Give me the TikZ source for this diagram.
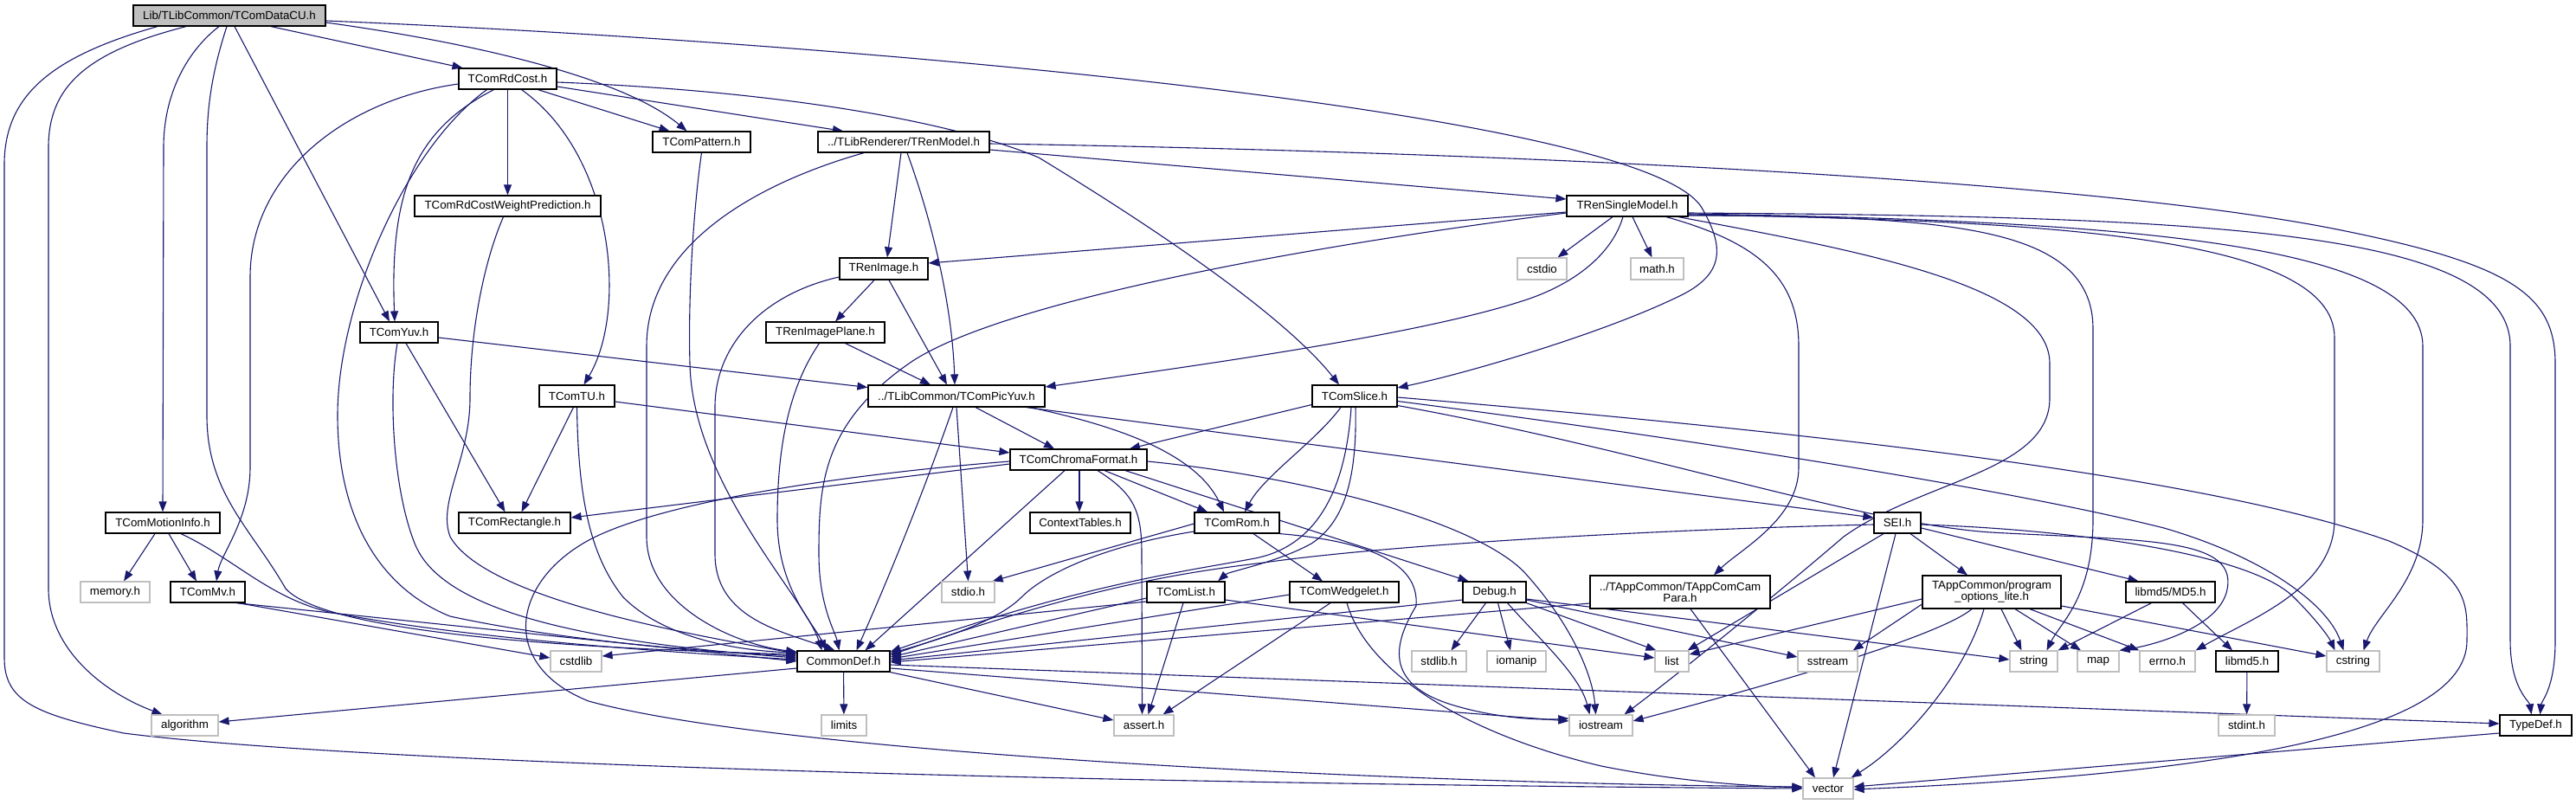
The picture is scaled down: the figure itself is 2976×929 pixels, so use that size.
\documentclass[tikz,border=0pt]{standalone}
\usepackage{fontspec}
\setmainfont{Liberation Sans}
\usetikzlibrary{arrows.meta}
\definecolor{mblue}{HTML}{191970}
\definecolor{grey75}{HTML}{BFBFBF}
\pgfdeclarelayer{bg}
\pgfsetlayers{bg,main}
\newcommand\dxfont{\fontsize{13.3}{13}\selectfont}
\newcommand\N[7]{%
 \pgfmathsetmacro\dxw{#5-#3}\pgfmathsetmacro\dxh{#6-#4}%
 \pgfmathsetmacro\dxx{(#3+#5)/2}\pgfmathsetmacro\dxy{(#4+#6)/2}%
 \node[#1, minimum width=\dxw pt, minimum height=\dxh pt] (#2) at (\dxx,\dxy) {#7};}
\tikzset{
 nbase/.style={rectangle, inner sep=0pt, line width=1.2pt, font=\dxfont, align=center, text=black},
 nb/.style={nbase, draw=black, fill=white},
 ng/.style={nbase, draw=grey75, fill=white},
 nr/.style={nbase, draw=black, fill=grey75},
 edg/.style={draw=mblue, line width=1.1pt, -{Triangle[length=12pt,width=9pt]}},
}
\begin{document}
\begin{tikzpicture}[x=1pt,y=-1pt]
\useasboundingbox (0,0) rectangle (2976,929);
% nodes
\N{nr}{cu}{154}{6}{376}{30}{Lib/TLibCommon/TComDataCU.h}
\N{nb}{rdcost}{530}{79}{643}{103}{TComRdCost.h}
\N{nb}{pattern}{754}{152}{867}{176}{TComPattern.h}
\N{nb}{renmodel}{945}{152}{1143}{176}{../TLibRenderer/TRenModel.h}
\N{nb}{rdcwp}{479}{226}{694}{250}{TComRdCostWeightPrediction.h}
\N{nb}{rensingle}{1810}{226}{1950}{250}{TRenSingleModel.h}
\N{nb}{renimage}{970}{298}{1072}{323}{TRenImage.h}
\N{ng}{cstdio}{1753}{298}{1810}{323}{cstdio}
\N{ng}{math}{1884}{298}{1945}{323}{math.h}
\N{nb}{yuv}{416}{372}{506}{396}{TComYuv.h}
\N{nb}{renplane}{885}{372}{1022}{396}{TRenImagePlane.h}
\N{nb}{tu}{623}{445}{710}{470}{TComTU.h}
\N{nb}{picyuv}{1003}{445}{1207}{470}{../TLibCommon/TComPicYuv.h}
\N{nb}{slice}{1516}{445}{1614}{470}{TComSlice.h}
\N{nb}{chroma}{1167}{519}{1325}{543}{TComChromaFormat.h}
\N{nb}{motion}{122}{592}{254}{616}{TComMotionInfo.h}
\N{nb}{rect}{530}{592}{659}{616}{TComRectangle.h}
\N{nb}{ctxt}{1190}{592}{1306}{616}{ContextTables.h}
\N{nb}{rom}{1380}{592}{1478}{616}{TComRom.h}
\N{nb}{sei}{2165}{592}{2219}{616}{SEI.h}
\N{ng}{memory}{93}{672}{173}{696}{memory.h}
\N{nb}{mv}{197}{672}{283}{696}{TComMv.h}
\N{ng}{stdio}{1088}{672}{1149}{696}{stdio.h}
\N{nb}{listh}{1325}{672}{1415}{696}{TComList.h}
\N{nb}{wedge}{1490}{672}{1616}{696}{TComWedgelet.h}
\N{nb}{debug}{1690}{672}{1763}{696}{Debug.h}
\N{nb}{campara}{1837}{665}{2045}{703}{../TAppCommon/TAppComCam\\Para.h}
\N{nb}{popts}{2221}{665}{2381}{703}{TAppCommon/program\\\_options\_lite.h}
\N{nb}{md5h}{2456}{672}{2559}{696}{libmd5/MD5.h}
\N{ng}{cstdlib}{636}{752}{695}{776}{cstdlib}
\N{nb}{commondef}{921}{752}{1028}{776}{CommonDef.h}
\N{ng}{stdlib}{1631}{752}{1694}{776}{stdlib.h}
\N{ng}{iomanip}{1718}{752}{1786}{776}{iomanip}
\N{ng}{list}{1912}{752}{1951}{776}{list}
\N{ng}{sstream}{2077}{752}{2146}{776}{sstream}
\N{ng}{string}{2322}{752}{2377}{776}{string}
\N{ng}{map}{2400}{752}{2448}{776}{map}
\N{ng}{errno}{2472}{752}{2536}{776}{errno.h}
\N{nb}{libmd5}{2560}{752}{2632}{776}{libmd5.h}
\N{ng}{cstring}{2688}{752}{2749}{776}{cstring}
\N{ng}{algorithm}{175}{826}{252}{850}{algorithm}
\N{ng}{limits}{949}{826}{1001}{850}{limits}
\N{ng}{assert}{1287}{826}{1356}{850}{assert.h}
\N{ng}{iostream}{1813}{826}{1886}{850}{iostream}
\N{ng}{stdint}{2563}{826}{2628}{850}{stdint.h}
\N{nb}{typedef}{2888}{826}{2971}{850}{TypeDef.h}
\N{ng}{vector}{2083}{899}{2141}{923}{vector}
\begin{pgfonlayer}{bg}
\fill[white] (0,0) rectangle (2976,929);
% edges from TComDataCU
\draw[edg] ([xshift=-83]cu.south) .. controls (60,65) and (5,110) .. (5,190) -- (5,760) .. controls (5,810) and (40,825) .. (143,847) .. controls (400,880) and (1200,905) .. (vector.west);
\draw[edg] ([xshift=-50]cu.south) .. controls (100,60) and (56,100) .. (56,170) -- (56,680) .. controls (56,750) and (120,800) .. ([xshift=-26]algorithm.north);
\draw[edg] ([xshift=-12]cu.south) .. controls (215,60) and (189,110) .. (189,170) -- (motion.north);
\draw[edg] ([xshift=-3]cu.south) .. controls (246,80) and (239,120) .. (239,170) -- (239,480) .. controls (239,570) and (290,610) .. (330,680) .. controls (380,735) and (700,750) .. ([yshift=8]commondef.west);
\draw[edg] ([xshift=6]cu.south) -- ([xshift=-11]yuv.north);
\draw[edg] ([xshift=48]cu.south) -- ([xshift=-52]rdcost.north);
\draw[edg] ([yshift=-8]cu.east) .. controls (550,50) and (720,90) .. ([xshift=-17]pattern.north);
\draw[edg] ([yshift=-6]cu.east) .. controls (1000,50) and (1900,130) .. (1966,240) .. controls (1995,290) and (1990,320) .. (1934,345) .. controls (1850,385) and (1700,430) .. ([yshift=9.5]slice.east);
% TComRdCost
\draw[edg] ([yshift=-6]rdcost.west) .. controls (400,115) and (289,200) .. (289,320) -- (289,540) .. controls (289,600) and (255,640) .. ([xshift=10]mv.north);
\draw[edg] ([xshift=-24]rdcost.south) .. controls (470,170) and (390,350) .. (390,480) .. controls (390,600) and (440,680) .. (520,712) .. controls (650,740) and (800,752) .. ([yshift=6]commondef.west);
\draw[edg] ([xshift=-16]rdcost.south) .. controls (480,150) and (450,220) .. ([xshift=-5]yuv.north);
\draw[edg] (rdcost) -- (rdcwp);
\draw[edg] ([xshift=16]rdcost.south) .. controls (710,180) and (725,360) .. ([xshift=8]tu.north);
\draw[edg] ([xshift=35]rdcost.south) -- ([xshift=-37]pattern.north);
\draw[edg] ([yshift=-9]rdcost.east) -- ([xshift=-70]renmodel.north);
\draw[edg] ([yshift=-4]rdcost.east) .. controls (900,105) and (1100,140) .. (1200,182) .. controls (1320,255) and (1480,360) .. ([xshift=-18]slice.north);
% TComPattern
\draw[edg] (pattern.south) .. controls (800,250) and (795,350) .. (797,420) .. controls (800,560) and (930,690) .. ([xshift=-25]commondef.north);
% TRenModel
\draw[edg] ([xshift=-46]renmodel.south) .. controls (880,210) and (747,280) .. (747,400) -- (747,620) .. controls (747,700) and (850,745) .. ([yshift=11]commondef.west);
\draw[edg] ([xshift=-3]renmodel.south) -- ([xshift=4]renimage.north);
\draw[edg] ([xshift=4]renmodel.south) .. controls (1075,250) and (1100,350) .. ([xshift=-2]picyuv.north);
\draw[edg] ([yshift=-9]renmodel.east) -- ([yshift=8]rensingle.west);
\draw[edg] ([yshift=-2]renmodel.east) .. controls (1700,175) and (2400,205) .. (2700,265) .. controls (2900,305) and (2952,340) .. (2952,420) -- (2952,740) .. controls (2952,795) and (2936,810) .. ([xshift=5]typedef.north);
% TComRdCostWeightPrediction
\draw[edg] ([xshift=-5]rdcwp.south) .. controls (560,300) and (543,380) .. (543,460) .. controls (543,530) and (505,580) .. (520,620) .. controls (560,690) and (780,730) .. ([yshift=9]commondef.west);
% TRenSingleModel
\draw[edg] ([yshift=-7]rensingle.west) -- ([yshift=6.5]renimage.east);
\draw[edg] ([yshift=-8]rensingle.west) .. controls (1500,285) and (1150,350) .. (1050,420) .. controls (950,490) and (946,560) .. (946,640) .. controls (946,700) and (965,730) .. ([xshift=-5]commondef.north);
\draw[edg] ([xshift=-5]rensingle.south) .. controls (1860,300) and (1810,330) .. (1767,345) .. controls (1650,385) and (1400,420) .. ([yshift=10.5]picyuv.east);
\draw[edg] ([xshift=-17]rensingle.south) -- ([xshift=18]cstdio.north);
\draw[edg] ([xshift=6]rensingle.south) -- ([xshift=-6]math.north);
\draw[edg] ([xshift=45]rensingle.south) .. controls (2030,280) and (2078,320) .. (2078,400) -- (2078,540) .. controls (2078,600) and (2010,635) .. ([xshift=39]campara.north);
\draw[edg] ([xshift=59]rensingle.south) .. controls (2150,290) and (2368,330) .. (2368,420) -- (2368,460) .. controls (2368,545) and (2220,555) .. (2130,620) .. controls (2060,680) and (1950,770) .. ([xshift=27]iostream.north);
\draw[edg] ([yshift=-11]rensingle.east) .. controls (2250,250) and (2418,260) .. (2418,380) -- (2418,600) .. controls (2418,690) and (2380,720) .. ([xshift=15]string.north);
\draw[edg] ([yshift=-10]rensingle.east) .. controls (2350,255) and (2697,270) .. (2697,390) -- (2697,600) .. controls (2697,680) and (2600,715) .. (errno.north east);
\draw[edg] ([yshift=-9]rensingle.east) .. controls (2450,255) and (2799,280) .. (2799,400) -- (2799,600) .. controls (2799,670) and (2745,710) .. ([xshift=12]cstring.north);
\draw[edg] ([yshift=-8]rensingle.east) .. controls (2550,250) and (2900,265) .. (2900,400) -- (2900,740) .. controls (2900,795) and (2922,810) .. ([xshift=-5]typedef.north);
% TRenImage
\draw[edg] ([xshift=-11]renimage.south) -- ([xshift=11.5]renplane.north);
\draw[edg] ([xshift=6]renimage.south) -- ([xshift=-11]picyuv.north);
\draw[edg] ([yshift=-9.5]renimage.west) .. controls (880,340) and (826,400) .. (826,470) -- (826,640) .. controls (826,715) and (905,730) .. ([xshift=-10]commondef.north);
% TRenImagePlane
\draw[edg] ([xshift=23]renplane.south) -- ([xshift=-30]picyuv.north);
\draw[edg] ([xshift=-7]renplane.south) .. controls (910,450) and (898,520) .. (898,600) .. controls (898,680) and (940,720) .. ([xshift=-20]commondef.north);
% TComYuv
\draw[edg] ([yshift=-6]yuv.east) -- ([yshift=10]picyuv.west);
\draw[edg] ([xshift=8]yuv.south) -- ([xshift=-11]rect.north);
\draw[edg] ([xshift=-2]yuv.south) .. controls (448,460) and (455,570) .. (480,630) .. controls (510,700) and (650,740) .. ([yshift=4]commondef.west);
% TComTU
\draw[edg] ([yshift=-6.5]tu.east) -- ([yshift=8]chroma.west);
\draw[edg] ([xshift=-4]tu.south) -- ([xshift=8]rect.north);
\draw[edg] (tu.south) .. controls (668,570) and (680,640) .. (720,690) .. controls (770,740) and (860,752) .. ([yshift=10]commondef.west);
% TComPicYuv
\draw[edg] (picyuv.south) -- (stdio.north);
\draw[edg] ([xshift=-4]picyuv.south) .. controls (1070,560) and (1030,660) .. ([xshift=15]commondef.north);
\draw[edg] ([xshift=22]picyuv.south) -- ([xshift=-28]chroma.north);
\draw[edg] ([xshift=85]picyuv.south) .. controls (1280,490) and (1380,520) .. ([xshift=-15]rom.north);
\draw[edg] ([xshift=-22]picyuv.south east) -- ([yshift=6]sei.west);
% TComSlice
\draw[edg] ([yshift=-10]slice.west) -- ([xshift=59]chroma.north);
\draw[edg] ([xshift=-16]slice.south) .. controls (1520,510) and (1460,550) .. ([xshift=9]rom.north);
\draw[edg] ([xshift=-4]slice.south) .. controls (1555,560) and (1525,630) .. (1450,645) .. controls (1370,660) and (1250,675) .. ([yshift=11]commondef.east);
\draw[edg] ([xshift=1]slice.south) .. controls (1568,560) and (1550,605) .. (1515,628) .. controls (1475,650) and (1420,660) .. ([xshift=37]listh.north);
\draw[edg] ([yshift=-11]slice.east) .. controls (1900,520) and (2150,605) .. (2300,615) .. controls (2480,625) and (2590,620) .. (2572,685) .. controls (2560,725) and (2490,745) .. (map.north east);
\draw[edg] ([yshift=-6]slice.east) .. controls (1900,500) and (2300,560) .. (2500,610) .. controls (2620,645) and (2690,700) .. ([xshift=-11]cstring.north);
\draw[edg] ([yshift=-1.5]slice.east) .. controls (2100,500) and (2550,550) .. (2760,625) .. controls (2855,665) and (2850,700) .. (2850,740) .. controls (2850,850) and (2550,895) .. ([yshift=-1]vector.east);
% TComChromaFormat
\draw[edg] ([yshift=-5]chroma.west) -- ([yshift=6]rect.east);
\draw[edg] ([yshift=-2]chroma.west) .. controls (950,550) and (740,585) .. (670,630) .. controls (590,680) and (580,770) .. (680,810) .. controls (900,870) and (1600,905) .. ([yshift=2]vector.west);
\draw[edg] ([xshift=-16]chroma.south) -- ([xshift=25]commondef.north);
\draw[edg] ([xshift=1]chroma.south) -- ([xshift=-1]ctxt.north);
\draw[edg] ([xshift=22]chroma.south) .. controls (1310,570) and (1319,590) .. (1319,640) -- ([xshift=-2]assert.north);
\draw[edg] ([xshift=30]chroma.south) -- ([xshift=-34]rom.north);
\draw[edg] ([xshift=54]chroma.south) -- ([xshift=-30]debug.north);
\draw[edg] ([yshift=-2]chroma.east) .. controls (1500,550) and (1700,600) .. (1760,660) .. controls (1815,720) and (1840,780) .. ([xshift=-6]iostream.north);
% TComRom
\draw[edg] ([yshift=-1]rom.west) -- ([xshift=-3]stdio.north east);
\draw[edg] ([yshift=-10]rom.west) .. controls (1280,630) and (1210,660) .. (1180,690) .. controls (1150,720) and (1080,740) .. ([yshift=9]commondef.east);
\draw[edg] ([xshift=19]rom.south) -- ([xshift=-25]wedge.north);
\draw[edg] (rom.south east) .. controls (1580,625) and (1640,650) .. (1636,700) .. controls (1612,740) and (1595,790) .. (1680,815) .. controls (1730,830) and (1780,832) .. ([yshift=8]iostream.west);
% SEI
\draw[edg] ([yshift=-2]sei.west) .. controls (1900,612) and (1600,630) .. (1460,650) .. controls (1360,662) and (1250,680) .. ([yshift=7]commondef.east);
\draw[edg] ([xshift=-16]sei.south) -- ([xshift=-2]list.north east);
\draw[edg] ([xshift=-2]sei.south) -- ([xshift=6]vector.north);
\draw[edg] ([xshift=15]sei.south) -- ([xshift=-28]popts.north);
\draw[edg] ([yshift=-6]sei.east) -- ([xshift=-37]md5h.north);
\draw[edg] ([yshift=-2]sei.east) .. controls (2400,612) and (2600,640) .. (2650,690) .. controls (2675,715) and (2690,735) .. ([xshift=-21]cstring.north);
% TComMotionInfo
\draw[edg] ([xshift=-9]motion.south) -- ([xshift=10]memory.north);
\draw[edg] ([xshift=7]motion.south) -- ([xshift=-13]mv.north);
\draw[edg] ([xshift=21]motion.south) .. controls (270,645) and (310,690) .. (380,707) .. controls (550,740) and (800,755) .. ([yshift=2]commondef.west);
% TComMv
\draw[edg] ([xshift=33]mv.south) -- (commondef.west);
\draw[edg] ([xshift=35]mv.south) -- ([yshift=4]cstdlib.west);
% TComList
\draw[edg] ([yshift=-7]listh.west) -- ([yshift=5]commondef.east);
\draw[edg] ([yshift=-11]listh.west) -- ([yshift=6]cstdlib.east);
\draw[edg] ([xshift=-3]listh.south) -- ([xshift=5]assert.north);
\draw[edg] ([yshift=-9]listh.east) -- ([yshift=4]list.west);
% TComWedgelet
\draw[edg] ([yshift=-3]wedge.west) -- ([yshift=3]commondef.east);
\draw[edg] ([xshift=-16]wedge.south) -- ([xshift=22]assert.north);
\draw[edg] ([xshift=3]wedge.south) .. controls (1580,780) and (1700,850) .. (1850,885) .. controls (1950,905) and (2030,908) .. ([yshift=1]vector.west);
% Debug
\draw[edg] ([yshift=-9]debug.west) -- ([yshift=1]commondef.east);
\draw[edg] ([xshift=-10]debug.south) -- ([xshift=14]stdlib.north);
\draw[edg] ([xshift=4]debug.south) -- ([xshift=-7]iomanip.north);
\draw[edg] ([xshift=15]debug.south) .. controls (1780,740) and (1825,780) .. ([xshift=-13]iostream.north);
\draw[edg] (debug.south east) -- ([xshift=2]list.north west);
\draw[edg] ([yshift=-9]debug.east) -- ([yshift=5]sstream.west);
\draw[edg] ([yshift=-8]debug.east) -- ([yshift=2]string.west);
% TAppComCamPara
\draw[edg] ([yshift=-13]campara.west) -- ([yshift=-1]commondef.east);
\draw[edg] ([xshift=12]campara.south) -- ([xshift=-15]vector.north);
% program_options_lite
\draw[edg] ([yshift=-8]popts.west) -- ([yshift=8]list.east);
\draw[edg] ([yshift=-14]popts.west) -- ([xshift=-6]sstream.north east);
\draw[edg] ([xshift=-23]popts.south) .. controls (2240,735) and (2050,790) .. ([yshift=5]iostream.east);
\draw[edg] ([xshift=-9]popts.south) .. controls (2270,780) and (2200,860) .. ([xshift=-3]vector.north east);
\draw[edg] ([xshift=11]popts.south) -- ([xshift=-14]string.north);
\draw[edg] ([xshift=27]popts.south) -- ([xshift=-20]map.north);
\draw[edg] ([xshift=44]popts.south) -- (errno.north west);
\draw[edg] ([yshift=-16]popts.east) -- ([yshift=6]cstring.west);
% MD5
\draw[edg] ([xshift=-22]md5h.south) -- (string.north east);
\draw[edg] ([xshift=14]md5h.south) -- ([xshift=-17]libmd5.north);
\draw[edg] (libmd5) -- (stdint);
% CommonDef
\draw[edg] ([yshift=-8]commondef.west) -- ([yshift=4]algorithm.east);
\draw[edg] (commondef) -- (limits);
\draw[edg] (commondef.south east) -- ([yshift=6]assert.west);
\draw[edg] ([yshift=-8]commondef.east) -- ([yshift=5]iostream.west);
\draw[edg] ([yshift=-4]commondef.east) -- ([yshift=2]typedef.west);
% TypeDef
\draw[edg] ([yshift=-9]typedef.west) -- ([yshift=2]vector.east);
\end{pgfonlayer}
\end{tikzpicture}
\end{document}
